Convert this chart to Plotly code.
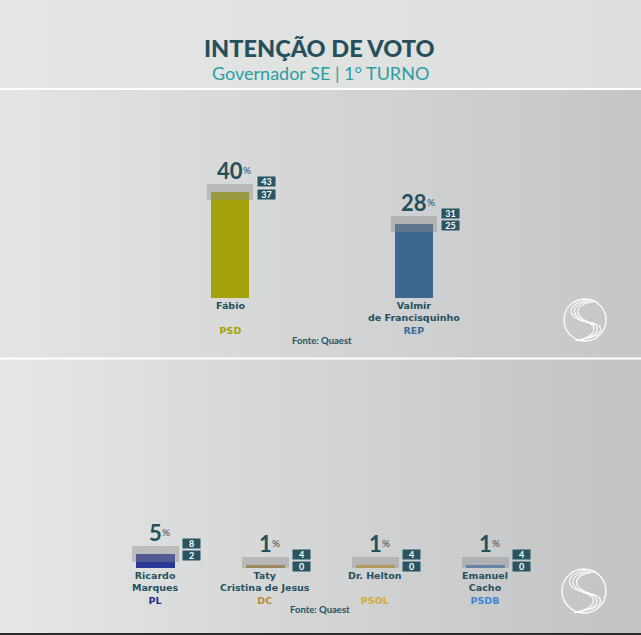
import plotly.graph_objects as go

W, H = 641, 635

# ---------------- data ----------------
title = "INTENÇÃO DE VOTO"
subtitle = "Governador SE | 1° TURNO"
source = "Fonte: Quaest"

top_names = ["Fábio", "Valmir\nde Francisquinho"]
top_parties = ["PSD", "REP"]
top_values = [40, 28]
top_high = [43, 31]
top_low = [37, 25]
top_bar_colors = ["#a3a20b", "#3d6790"]
top_party_colors = ["#a5a300", "#3e6b98"]

bot_names = ["Ricardo\nMarques", "Taty\nCristina de Jesus", "Dr. Helton", "Emanuel\nCacho"]
bot_parties = ["PL", "DC", "PSOL", "PSDB"]
bot_values = [5, 1, 1, 1]
bot_high = [8, 4, 4, 4]
bot_low = [2, 0, 0, 0]
bot_bar_colors = ["#2b3897", "#a7823a", "#c9a23c", "#4a7db8"]
bot_party_colors = ["#1d2a8c", "#b88a2e", "#d8a935", "#3d85d4"]

# ---------------- styles ----------------
FONT = "Lato"
NAME_FONT = "DejaVu Sans"
DARK = "#264f5c"
TEAL = "#2a9ea1"
BOX = "#285562"
BAND = "rgba(140,140,140,0.42)"


def py(p):
    return 1 - p / H


def px(p):
    return p / W


fig = go.Figure()

panels = [
    dict(names=top_names, parties=top_parties, values=top_values, high=top_high, low=top_low,
         bar_colors=top_bar_colors, party_colors=top_party_colors,
         xa="x", ya="y", x0px=230, dxpx=184, zero=298, scale=2.65, dom=(95, 352),
         bar_px=38, band_px=46),
    dict(names=bot_names, parties=bot_parties, values=bot_values, high=bot_high, low=bot_low,
         bar_colors=bot_bar_colors, party_colors=bot_party_colors,
         xa="x2", ya="y2", x0px=155, dxpx=110, zero=568, scale=2.8, dom=(365, 632),
         bar_px=39, band_px=47),
]

annotations = []
for k, p in enumerate(panels):
    xs = list(range(len(p["names"])))
    fig.add_trace(go.Bar(x=xs, y=p["values"], marker=dict(color=p["bar_colors"], line=dict(width=0)),
                         width=p["bar_px"] / p["dxpx"], xaxis=p["xa"], yaxis=p["ya"],
                         hoverinfo="skip", showlegend=False))
    fig.add_trace(go.Bar(x=xs, y=[h - l for h, l in zip(p["high"], p["low"])], base=p["low"],
                         marker=dict(color=BAND, line=dict(width=0)),
                         width=p["band_px"] / p["dxpx"], xaxis=p["xa"], yaxis=p["ya"],
                         hoverinfo="skip", showlegend=False))
    for i in xs:
        v, hi, lo = p["values"][i], p["high"][i], p["low"][i]
        common = dict(x=i, xref=p["xa"], yref=p["ya"], showarrow=False)
        s = str(v)
        annotations.append(dict(common, y=hi, text=s, yanchor="bottom", yshift=-2,
                                font=dict(family=FONT, size=22, color=DARK, weight="bold")))
        annotations.append(dict(common, y=hi, text="%", xanchor="left", yanchor="bottom",
                                xshift=len(s) * 5.9 - 1, yshift=6,
                                font=dict(family=FONT, size=10, color=DARK)))
        for val, ys in ((hi, 2.5), (lo, -10)):
            annotations.append(dict(common, y=hi, text=str(val), xshift=36.5, yshift=ys,
                                    bgcolor=BOX, width=15, height=7, borderpad=1,
                                    font=dict(family=FONT, size=9, color="white", weight="bold")))
        lines = p["names"][i].split("\n")
        if len(lines) == 1:
            lines.append(" ")
        lines.append("<span style='color:%s'>%s</span>" % (p["party_colors"][i], p["parties"][i]))
        annotations.append(dict(common, y=0, text="<br>".join(lines), yanchor="top", yshift=-1,
                                borderpad=0,
                                font=dict(family=NAME_FONT, size=9.5, color=DARK, weight="bold")))

# title / source texts
annotations.append(dict(x=0.499, y=py(48), xref="paper", yref="paper", showarrow=False, text=title,
                        yanchor="middle", font=dict(family=FONT, size=23.5, color=DARK, weight=900)))
annotations.append(dict(x=0.5, y=py(73), xref="paper", yref="paper", showarrow=False, text=subtitle,
                        yanchor="middle", font=dict(family=FONT, size=18, color=TEAL)))
annotations.append(dict(x=px(322), y=py(340), xref="paper", yref="paper", showarrow=False, text=source,
                        yanchor="middle", font=dict(family=FONT, size=9.5, color=DARK, weight="bold")))
annotations.append(dict(x=px(320), y=py(609), xref="paper", yref="paper", showarrow=False, text=source,
                        yanchor="middle", font=dict(family=FONT, size=9.5, color=DARK, weight="bold")))

# ---------------- background ----------------
shapes = []


def strips(top, bot, c_left, c_right, n=64):
    for s in range(n):
        t = s / (n - 1)
        c = tuple(round(a + (b - a) * t) for a, b in zip(c_left, c_right))
        shapes.append(dict(type="rect", xref="paper", yref="paper", layer="below",
                           x0=s / n, x1=(s + 1) / n + 0.002, y0=py(bot), y1=py(top),
                           fillcolor="rgb(%d,%d,%d)" % c, line=dict(width=0)))


strips(0, 89, (228, 230, 230), (221, 223, 223))
strips(89, 358, (227, 228, 228), (196, 198, 199))
strips(358, 635, (229, 230, 230), (193, 195, 196))

for yy in (89, 358.5):
    shapes.append(dict(type="line", xref="paper", yref="paper", x0=0, x1=1, y0=py(yy), y1=py(yy),
                       line=dict(color="white", width=2.2)))
shapes.append(dict(type="line", xref="paper", yref="paper", x0=0, x1=1, y0=py(634), y1=py(634),
                   line=dict(color="#2b2b2b", width=2)))


def logo(cx, cy, r):
    shapes.append(dict(type="circle", xref="paper", yref="paper",
                       x0=px(cx - r), x1=px(cx + r), y0=py(cy + r), y1=py(cy - r),
                       line=dict(color="white", width=1.3)))
    for off in (-0.16, 0.0, 0.16):
        pts = [(0.35 + off, -0.93 + off * 0.3), (-0.95 + off, -0.7), (-0.55 + off, -0.05),
               (0.15 + off, 0.1 + off * 0.2), (0.9 + off, 0.3), (0.65 + off, 0.8),
               (-0.3 + off, 0.95 - off * 0.3)]
        P = [(px(cx + a * r), py(cy + b * r)) for a, b in pts]
        path = "M %f,%f C %f,%f %f,%f %f,%f C %f,%f %f,%f %f,%f" % tuple(v for pt in P for v in pt)
        shapes.append(dict(type="path", xref="paper", yref="paper", path=path,
                           line=dict(color="white", width=1.1)))


logo(585, 320, 21)
logo(584, 591, 22)

# ---------------- axes ----------------
layout_axes = {}
for k, p in enumerate(panels):
    sfx = "" if k == 0 else "2"
    top_px, bot_px = p["dom"]
    layout_axes["xaxis" + sfx] = dict(domain=[0, 1], range=[-p["x0px"] / p["dxpx"], (W - p["x0px"]) / p["dxpx"]],
                                      visible=False, fixedrange=True, anchor="y" + sfx)
    layout_axes["yaxis" + sfx] = dict(domain=[py(bot_px), py(top_px)],
                                      range=[-(bot_px - p["zero"]) / p["scale"], (p["zero"] - top_px) / p["scale"]],
                                      visible=False, fixedrange=True, anchor="x" + sfx)

fig.update_layout(
    width=W, height=H, margin=dict(l=0, r=0, t=0, b=0),
    paper_bgcolor="#d9dada", plot_bgcolor="rgba(0,0,0,0)",
    barmode="overlay", bargap=0, showlegend=False,
    annotations=annotations, shapes=shapes,
    font=dict(family=FONT),
    **layout_axes,
)

fig.write_html("out.html", config=dict(displayModeBar=False),
               post_script="document.body.style.margin='0';document.body.style.overflow='hidden';")
